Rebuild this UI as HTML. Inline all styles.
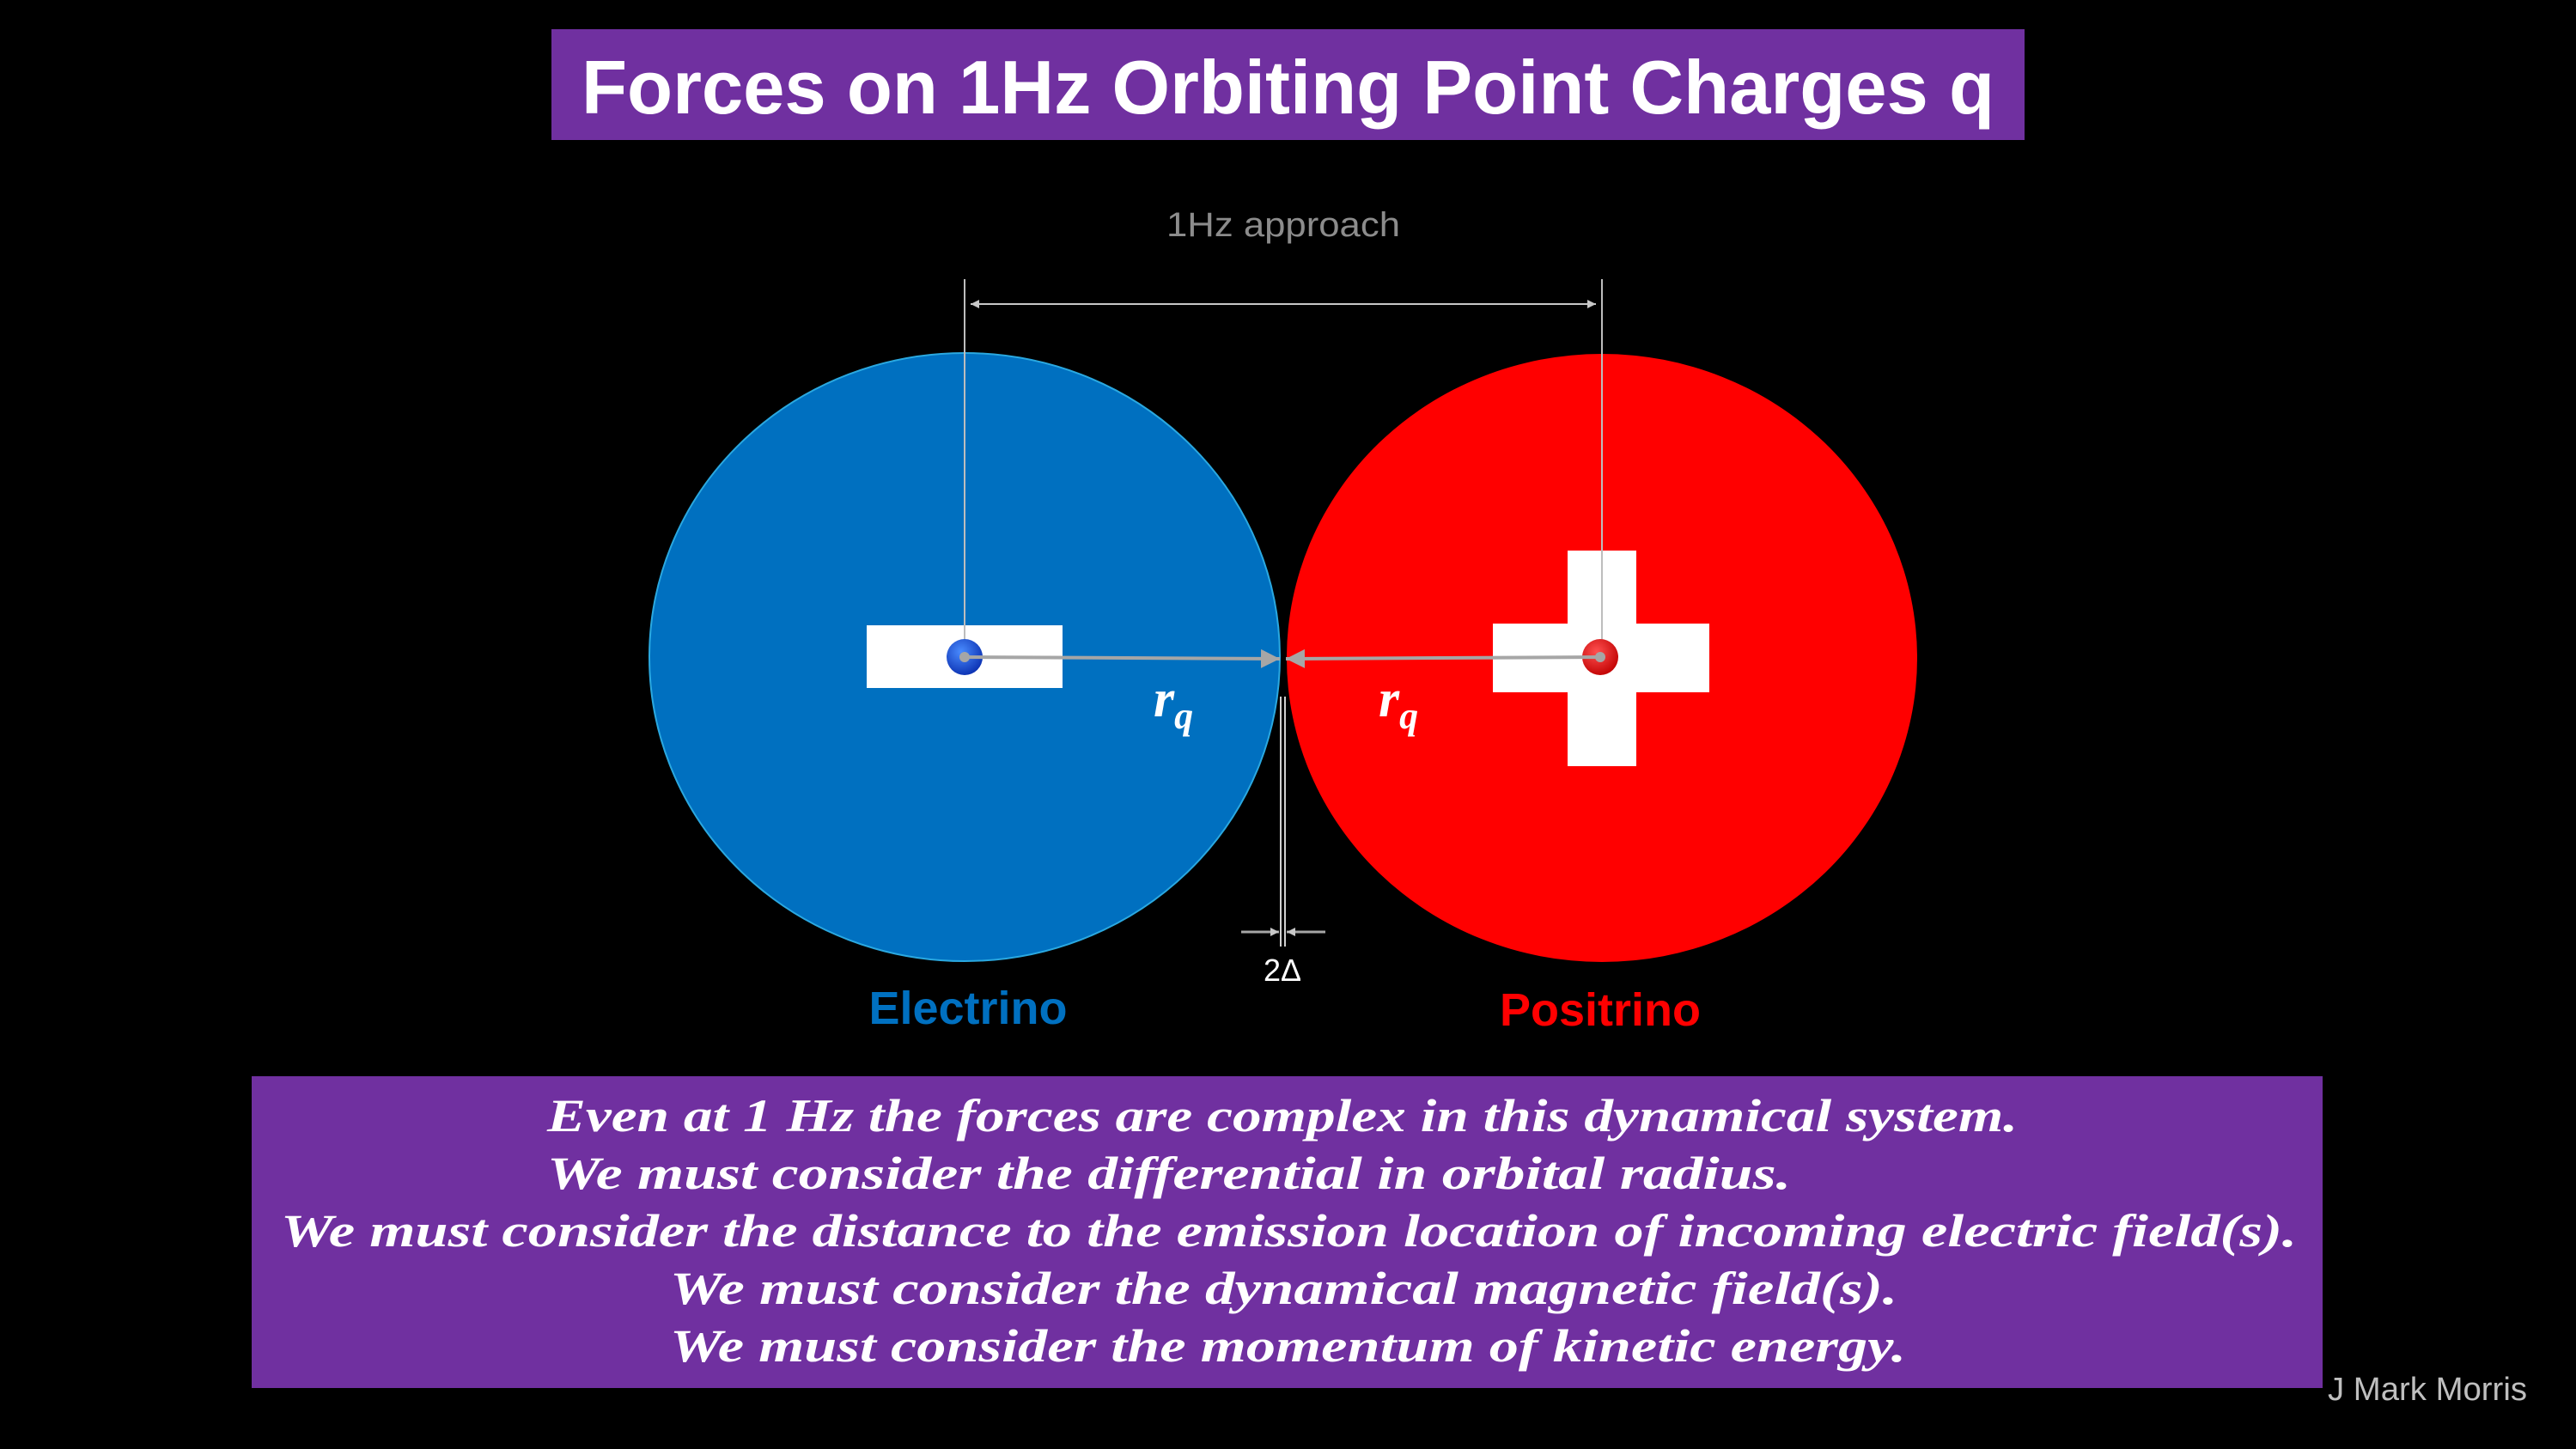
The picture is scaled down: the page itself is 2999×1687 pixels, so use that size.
<!DOCTYPE html>
<html><head><meta charset="utf-8"><style>html,body{margin:0;padding:0;background:#000}svg{display:block}</style></head>
<body>
<svg width="2999" height="1687" viewBox="0 0 2999 1687" xmlns="http://www.w3.org/2000/svg">
<defs>
<marker id="ah" viewBox="0 0 10 10" refX="10" refY="5" markerWidth="10" markerHeight="10" markerUnits="userSpaceOnUse" orient="auto"><path d="M0,0 L10,5 L0,10 z" fill="#c8c8c8"/></marker>
<marker id="ag" viewBox="0 0 10 10" refX="10" refY="5" markerWidth="22" markerHeight="22" markerUnits="userSpaceOnUse" orient="auto"><path d="M0,0 L10,5 L0,10 z" fill="#a6a6a6"/></marker>
<radialGradient id="bg" cx="0.4" cy="0.35" r="0.7"><stop offset="0" stop-color="#4a8cff"/><stop offset="1" stop-color="#0a2fb0"/></radialGradient>
<radialGradient id="rg" cx="0.4" cy="0.35" r="0.7"><stop offset="0" stop-color="#ff5050"/><stop offset="1" stop-color="#c00000"/></radialGradient>
</defs>
<rect width="2999" height="1687" fill="#000"/>
<rect x="642" y="34" width="1715" height="129" fill="#7030A0"/>
<text x="677" y="132" textLength="1645" lengthAdjust="spacingAndGlyphs" font-family="Liberation Sans, sans-serif" font-weight="bold" font-size="88" fill="#fff">Forces on 1Hz Orbiting Point Charges q</text>
<text x="1358" y="275" textLength="272" lengthAdjust="spacingAndGlyphs" font-family="Liberation Sans, sans-serif" font-size="40" fill="#8c8c8c">1Hz approach</text>

<ellipse cx="1123" cy="765" rx="367" ry="354" fill="#0070C0" stroke="#2aa8e0" stroke-width="2"/>
<ellipse cx="1865" cy="766" rx="367" ry="354" fill="#FF0000"/>
<rect x="1009" y="728" width="228" height="73" fill="#fff"/>
<rect x="1738" y="726" width="252" height="80" fill="#fff"/>
<rect x="1825" y="641" width="80" height="251" fill="#fff"/>

<line x1="1123" y1="325" x2="1123" y2="765" stroke="#bdbdbd" stroke-width="2"/>
<line x1="1865" y1="325" x2="1865" y2="765" stroke="#bdbdbd" stroke-width="2"/>
<line x1="1145" y1="354" x2="1858" y2="354" stroke="#c8c8c8" stroke-width="2" marker-end="url(#ah)"/>
<line x1="1843" y1="354" x2="1130" y2="354" stroke="#c8c8c8" stroke-width="2" marker-end="url(#ah)"/>

<ellipse cx="1123" cy="765" rx="21" ry="21" fill="url(#bg)"/>
<ellipse cx="1863" cy="765" rx="21" ry="21" fill="url(#rg)"/>
<line x1="1123" y1="765" x2="1490" y2="767" stroke="#a6a6a6" stroke-width="4" marker-end="url(#ag)"/>
<line x1="1863" y1="765" x2="1497" y2="767" stroke="#a6a6a6" stroke-width="4" marker-end="url(#ag)"/>
<circle cx="1123" cy="765" r="6" fill="#a6a6a6"/>
<circle cx="1863" cy="765" r="6" fill="#a6a6a6"/>

<line x1="1491" y1="811" x2="1491" y2="1102" stroke="#d0d0d0" stroke-width="2"/>
<line x1="1496" y1="811" x2="1496" y2="1102" stroke="#d0d0d0" stroke-width="2"/>
<line x1="1445" y1="1085" x2="1489" y2="1085" stroke="#a6a6a6" stroke-width="3" marker-end="url(#ah)"/>
<line x1="1543" y1="1085" x2="1498" y2="1085" stroke="#a6a6a6" stroke-width="3" marker-end="url(#ah)"/>
<text x="1493" y="1142" text-anchor="middle" font-family="Liberation Sans, DejaVu Sans, sans-serif" font-size="36" fill="#fff">2Δ</text>

<text x="1343" y="834" font-family="Liberation Serif, serif" font-style="italic" font-weight="bold" font-size="62" fill="#fff">r<tspan font-size="44" dy="14">q</tspan></text>
<text x="1605" y="834" font-family="Liberation Serif, serif" font-style="italic" font-weight="bold" font-size="62" fill="#fff">r<tspan font-size="44" dy="14">q</tspan></text>

<text x="1127" y="1192" text-anchor="middle" font-family="Liberation Sans, sans-serif" font-weight="bold" font-size="54" fill="#0070C0">Electrino</text>
<text x="1863" y="1194" text-anchor="middle" font-family="Liberation Sans, sans-serif" font-weight="bold" font-size="54" fill="#FF0000">Positrino</text>

<rect x="293" y="1253" width="2411" height="363" fill="#7030A0"/>
<g font-family="Liberation Serif, serif" font-style="italic" font-weight="bold" font-size="54" fill="#fff" lengthAdjust="spacingAndGlyphs">
<text x="637" y="1317" textLength="1712" lengthAdjust="spacingAndGlyphs">Even at 1 Hz the forces are complex in this dynamical system.</text>
<text x="637" y="1384" textLength="1448" lengthAdjust="spacingAndGlyphs">We must consider the differential in orbital radius.</text>
<text x="327" y="1451" textLength="2347" lengthAdjust="spacingAndGlyphs">We must consider the distance to the emission location of incoming electric field(s).</text>
<text x="780" y="1518" textLength="1429" lengthAdjust="spacingAndGlyphs">We must consider the dynamical magnetic field(s).</text>
<text x="780" y="1585" textLength="1439" lengthAdjust="spacingAndGlyphs">We must consider the momentum of kinetic energy.</text>
</g>
<text x="2710" y="1630" textLength="232" lengthAdjust="spacingAndGlyphs" font-family="Liberation Sans, sans-serif" font-size="38" fill="#bfbfbf">J Mark Morris</text>
</svg>
</body></html>
